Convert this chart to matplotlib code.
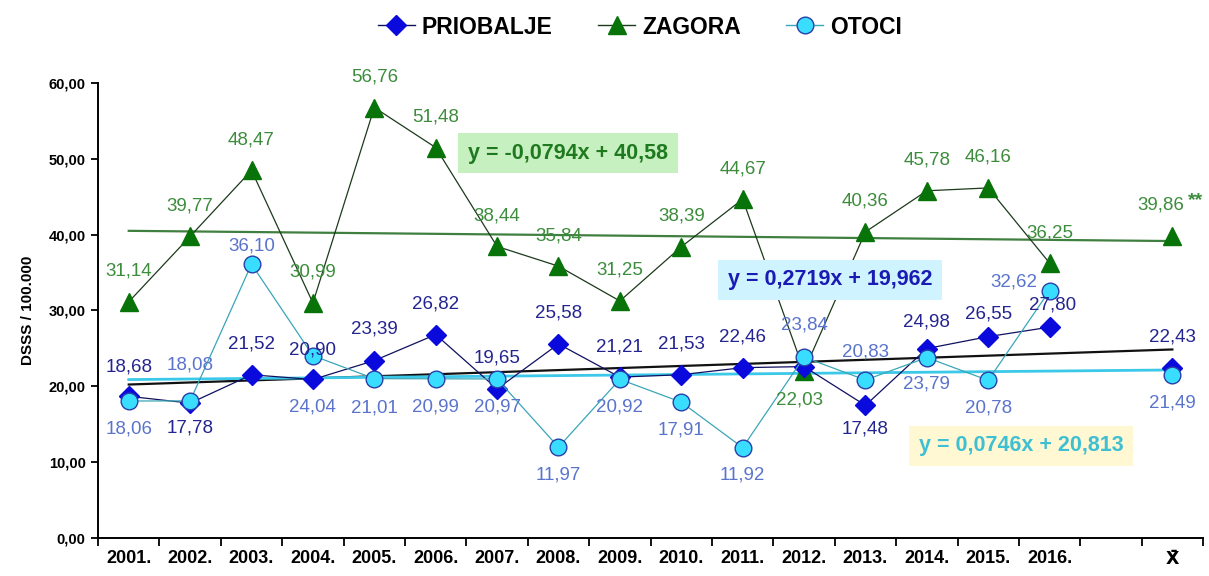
import matplotlib
matplotlib.use("Agg")
import matplotlib.pyplot as plt
from matplotlib.lines import Line2D
import numpy as np

plt.rcParams['font.family'] = ['Liberation Sans', 'DejaVu Sans']

# ---------------- data ----------------
categories = ['2001.', '2002.', '2003.', '2004.', '2005.', '2006.', '2007.', '2008.',
              '2009.', '2010.', '2011.', '2012.', '2013.', '2014.', '2015.', '2016.',
              '', 'X\u0304']

priobalje = [18.68, 17.78, 21.52, 20.90, 23.39, 26.82, 19.65, 25.58,
             21.21, 21.53, 22.46, 22.60, 17.48, 24.98, 26.55, 27.80, None, 22.43]
zagora = [31.14, 39.77, 48.47, 30.99, 56.76, 51.48, 38.44, 35.84,
          31.25, 38.39, 44.67, 22.03, 40.36, 45.78, 46.16, 36.25, None, 39.86]
otoci = [18.06, 18.08, 36.10, 24.04, 21.01, 20.99, 20.97, 11.97,
         20.92, 17.91, 11.92, 23.84, 20.83, 23.79, 20.78, 32.62, None, 21.49]

zagora_note = [''] * 17 + ['**']

# trend lines (slope, intercept) as shown on the chart
trend_zagora = (-0.0794, 40.58)
trend_priobalje = (0.2719, 19.962)
trend_otoci = (0.0746, 20.813)

# label placement (offset in points: dx, dy); None = label not shown
pos_priobalje = [(0, 21), (0, -18), (0, 22), (0, 21), (0, 23), (0, 22), (0, 22), (0, 22),
                 (0, 22), (0, 22), (0, 22), None, (0, -17), (0, 19), (0, 16), (2, 16), None, (0, 22)]
pos_zagora = [(0, 22)] * 11 + [(-3, -21)] + [(0, 22)] * 4 + [None, (-8, 22)]
pos_otoci = [(0, -20), (0, 26), (0, 13), (0, -37), (0, -21), (0, -20), (0, -20), (0, -20),
             (0, -20), (0, -20), (0, -20), (0, 23), (0, 20), (0, -19), (0, -20), (-26, 6), None, (0, -20)]

# ---------------- style ----------------
C_PRI_MK = '#0A0ADC'
C_PRI_LN = '#101060'
C_PRI_TX = '#242490'
C_ZAG_MK = '#087308'
C_ZAG_LN = '#1C3A1C'
C_ZAG_TX = '#3C8C3C'
C_OTO_MK = '#38DDFF'
C_OTO_ED = '#2A3FA8'
C_OTO_LN = '#3AA6B8'
C_OTO_TX = '#5A74CC'

fig = plt.figure(figsize=(12.09, 5.76), dpi=100)
ax = fig.add_axes([0.0811, 0.066, 0.914, 0.790])

x = np.arange(1, len(categories) + 1)

def arr(v):
    return np.array([np.nan if a is None else a for a in v], dtype=float)

yp, yz, yo = arr(priobalje), arr(zagora), arr(otoci)

# trend lines
xt = np.array([1, len(categories)])
ax.plot(xt, trend_zagora[0] * xt + trend_zagora[1], color='#3F7F3F', lw=1.6, zorder=2)
ax.plot(xt, trend_priobalje[0] * xt + trend_priobalje[1], color='#111111', lw=1.6, zorder=2)
ax.plot(xt, trend_otoci[0] * xt + trend_otoci[1], color='#3CC8E8', lw=2.0, zorder=2)

# series
ax.plot(x, yz, color=C_ZAG_LN, lw=0.9, marker='^', ms=13, mfc=C_ZAG_MK, mec=C_ZAG_MK, zorder=3)
ax.plot(x, yp, color=C_PRI_LN, lw=0.9, marker='D', ms=10, mfc=C_PRI_MK, mec=C_PRI_MK, zorder=4)
ax.plot(x, yo, color=C_OTO_LN, lw=0.9, marker='o', ms=12, mfc=C_OTO_MK, mec=C_OTO_ED,
        mew=1.0, zorder=5)

def fmt(v):
    return f"{v:.2f}".replace('.', ',')

def labels(vals, pos, color, notes=None):
    for i, (v, p) in enumerate(zip(vals, pos)):
        if v is None or p is None:
            continue
        ax.annotate(fmt(v), (x[i], v), xytext=p, textcoords='offset points',
                    ha='center', va='center', fontsize=13.5, color=color,
                    annotation_clip=False, zorder=6)
        if notes and notes[i]:
            ax.annotate(notes[i], (x[i], v), xytext=(p[0] + 25, p[1] + 3),
                        textcoords='offset points', ha='center', va='center',
                        fontsize=14, fontweight='bold', color=color,
                        annotation_clip=False, zorder=6)

labels(zagora, pos_zagora, C_ZAG_TX, zagora_note)
labels(priobalje, pos_priobalje, C_PRI_TX)
labels(otoci, pos_otoci, C_OTO_TX)

# equation boxes
def eq_text(tr):
    s, b = tr
    sign = '-' if s < 0 else ''
    sl = f"{abs(s):.4f}".replace('.', ',')
    bs = f"{b:g}".replace('.', ',')
    return f"y = {sign}{sl}x + {bs}"

fig.text(568 / 1209, 1 - 153 / 576, eq_text(trend_zagora), ha='center', va='center',
         fontsize=15.5, fontweight='bold', color='#1F7A1F',
         bbox=dict(boxstyle='square,pad=0.45', fc='#C6F0C0', ec='none'), zorder=7)
fig.text(830 / 1209, 1 - 280 / 576, eq_text(trend_priobalje), ha='center', va='center',
         fontsize=15.5, fontweight='bold', color='#1A1AB4',
         bbox=dict(boxstyle='square,pad=0.45', fc='#CFF3FF', ec='none'), zorder=7)
fig.text(1021 / 1209, 1 - 446 / 576, eq_text(trend_otoci), ha='center', va='center',
         fontsize=15.5, fontweight='bold', color='#3EC0D2',
         bbox=dict(boxstyle='square,pad=0.45', fc='#FFF8D2', ec='none'), zorder=7)

# axes styling
ax.set_xlim(0.5, len(categories) + 0.5)
ax.set_ylim(0, 60)
ax.set_yticks(np.arange(0, 61, 10))
ax.set_yticklabels([fmt(v) for v in np.arange(0, 61, 10)], fontsize=10.5, fontweight='bold')
ax.set_xticks(np.arange(0.5, len(categories) + 1, 1))
ax.set_xticklabels([])
ax.set_xticks(x, minor=True)
ax.set_xticklabels(categories, minor=True, fontsize=13, fontweight='bold')
for lab in ax.get_xticklabels(minor=True):
    if '\u0304' in lab.get_text():
        lab.set_fontfamily('DejaVu Sans')
        lab.set_fontsize(12.5)
ax.tick_params(axis='x', which='major', direction='out', length=6, width=1.3)
ax.tick_params(axis='x', which='minor', length=0, pad=9)
ax.tick_params(axis='y', direction='out', length=5, width=1.3, pad=4)
for s in ['top', 'right']:
    ax.spines[s].set_visible(False)
for s in ['left', 'bottom']:
    ax.spines[s].set_linewidth(1.4)
ax.set_ylabel('DSSS / 100.000', fontsize=11, fontweight='bold', labelpad=10)

# legend
handles = [
    Line2D([], [], color=C_PRI_LN, lw=1, marker='D', ms=10, mfc=C_PRI_MK, mec=C_PRI_MK),
    Line2D([], [], color=C_ZAG_LN, lw=1, marker='^', ms=13, mfc=C_ZAG_MK, mec=C_ZAG_MK),
    Line2D([], [], color=C_OTO_LN, lw=1, marker='o', ms=12, mfc=C_OTO_MK, mec=C_OTO_ED),
]
fig.legend(handles, ['PRIOBALJE', 'ZAGORA', 'OTOCI'], loc='center',
           bbox_to_anchor=(640 / 1209, 1 - 27 / 576), ncol=3, frameon=False,
           prop=dict(size=16.5, weight='bold'), handlelength=1.6, columnspacing=2.0,
           handletextpad=0.3)

fig.savefig('out.png', dpi=100, facecolor='white')
